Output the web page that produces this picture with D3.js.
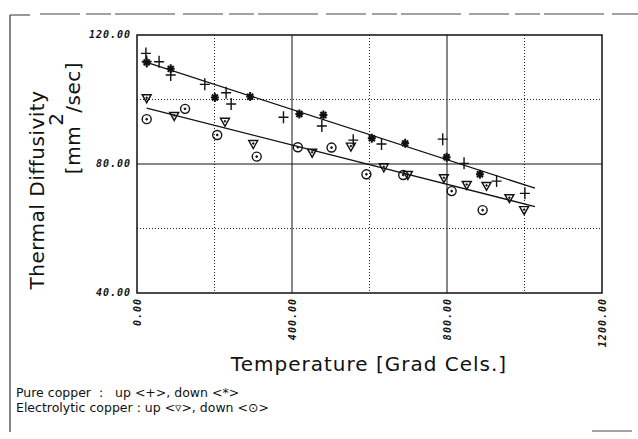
<!DOCTYPE html>
<html>
<head>
<meta charset="utf-8">
<script src="https://cdn.jsdelivr.net/npm/d3@7"></script>
<style>
body { margin: 0; background: #fff; }
svg text { fill: #111; }
</style>
</head>
<body>
<div id="chart"></div>
<script>
// pure copper, heating (+) and cooling (*)
var pureUp = [[23,114.3],[25,111.8],[57,111.7],[87,107.6],[175,104.7],[230,102.1],[243,98.6],[378,94.5],[477,91.8],[558,87.4],[631,86.2],[789,87.7],[844,80.2],[928,74.7],[1001,70.9]];
var pureDown = [[25,111.5],[87,109.5],[201,100.6],[292,100.9],[419,95.5],[481,95.2],[606,88],[692,86.4],[799,82.1],[885,76.8]];
// electrolytic copper, heating (triangle) and cooling (circle)
var elecUp = [[25,100.4],[96,94.9],[227,93.1],[300,86.2],[452,83.5],[552,85.4],[637,79],[699,76.6],[792,75.6],[851,73.5],[902,73.2],[961,69.4],[999,65.7]];
var elecDown = [[25,93.9],[124,97.1],[207,89],[309,82.3],[415,85.2],[502,85.1],[592,76.8],[687,76.6],[812,71.6],[892,65.7]];
// fitted lines
var pureFit = [[25,111.5],[1027,72.5]];
var elecFit = [[25,97.3],[1027,66.8]];

var xTicks = [0, 400, 800, 1200];
var yTicks = [40, 80, 120];
var xDotted = [200, 600, 1000];
var yDotted = [60, 100];
var legendLines = ["Pure copper  :   up <+>, down <*>", "Electrolytic copper : up <\u25BF>, down <\u2299>"];

var width = 638, height = 439;
var svg = d3.select("#chart").append("svg").attr("width", width).attr("height", height);

var x = d3.scaleLinear().domain([0, 1200]).range([137, 602]);
var y = d3.scaleLinear().domain([40, 120]).range([293, 35]);

// page frame bits (scan look)
svg.append("line").attr("x1", 10).attr("x2", 10).attr("y1", 15).attr("y2", 432).style("stroke", "#333").style("stroke-width", 1.2);
svg.append("line").attr("x1", 10).attr("x2", 30).attr("y1", 15).attr("y2", 15).style("stroke", "#333");
svg.append("line").attr("x1", 40).attr("x2", 638).attr("y1", 14).attr("y2", 14)
	.style("stroke", "#444").style("stroke-dasharray", "40,6,25,4,60,8").style("stroke-width", 1.2);
svg.append("line").attr("x1", 592).attr("x2", 632).attr("y1", 431).attr("y2", 431).style("stroke", "#444");

// dotted grid
xDotted.forEach(function(t){
	svg.append("line").attr("x1", x(t)).attr("x2", x(t)).attr("y1", y(120)).attr("y2", y(40))
		.style("stroke", "#222").style("stroke-dasharray", "1,2");
});
yDotted.forEach(function(v){
	svg.append("line").attr("x1", x(0)).attr("x2", x(1200)).attr("y1", y(v)).attr("y2", y(v))
		.style("stroke", "#222").style("stroke-dasharray", "1,2");
});
// solid grid
[400, 800].forEach(function(t){
	svg.append("line").attr("x1", x(t)).attr("x2", x(t)).attr("y1", y(120)).attr("y2", y(40)).style("stroke", "#111");
});
svg.append("line").attr("x1", x(0)).attr("x2", x(1200)).attr("y1", y(80)).attr("y2", y(80)).style("stroke", "#111");

// plot frame
svg.append("rect").attr("x", x(0)).attr("y", y(120)).attr("width", x(1200) - x(0)).attr("height", y(40) - y(120))
	.style("fill", "none").style("stroke", "#111").style("stroke-width", 1.5);

// tick labels
var tickFont = "'DejaVu Sans Mono', monospace";
yTicks.forEach(function(v){
	svg.append("text").attr("x", x(0) - 6).attr("y", y(v) + 3)
		.attr("text-anchor", "end").attr("font-family", tickFont).attr("font-size", "10px")
		.attr("font-weight", "bold").attr("font-style", "italic").attr("letter-spacing", "1")
		.text(v.toFixed(2));
});
xTicks.forEach(function(t){
	svg.append("text").attr("transform", "translate(" + (x(t) + 3.5) + "," + (y(40) + 5) + ") rotate(-90)")
		.attr("text-anchor", "end").attr("font-family", tickFont).attr("font-size", "10px")
		.attr("font-weight", "bold").attr("font-style", "italic").attr("letter-spacing", "1")
		.text(t.toFixed(2));
});

// axis titles
var titleFont = "'DejaVu Sans', sans-serif";
svg.append("text").attr("transform", "translate(44,190) rotate(-90)")
	.attr("text-anchor", "middle").attr("font-family", titleFont).attr("font-size", "20px")
	.attr("letter-spacing", "0.5")
	.text("Thermal Diffusivity");
var unit = svg.append("text").attr("transform", "translate(80,118) rotate(-90)")
	.attr("text-anchor", "middle").attr("font-family", titleFont).attr("font-size", "20px")
	.attr("letter-spacing", "0.5");
unit.append("tspan").text("[mm");
unit.append("tspan").attr("dy", -17).text("2");
unit.append("tspan").attr("dy", 17).text("/sec]");

svg.append("text").attr("x", 369).attr("y", 371)
	.attr("text-anchor", "middle").attr("font-family", titleFont).attr("font-size", "20px")
	.attr("letter-spacing", "1")
	.text("Temperature [Grad Cels.]");

// legend text
legendLines.forEach(function(s, i){
	svg.append("text").attr("x", 16).attr("y", 397 + i * 15)
		.attr("font-family", titleFont).attr("font-size", "12.5px")
		.attr("xml:space", "preserve").style("white-space", "pre")
		.text(s);
});

// fit lines
[pureFit, elecFit].forEach(function(f){
	svg.append("line").attr("x1", x(f[0][0])).attr("y1", y(f[0][1]))
		.attr("x2", x(f[1][0])).attr("y2", y(f[1][1]))
		.style("stroke", "#111").style("stroke-width", 1.3);
});

// markers
var g = svg.append("g").style("stroke", "#111").style("fill", "none");
pureUp.forEach(function(d){
	g.append("path").attr("transform", "translate(" + x(d[0]) + "," + y(d[1]) + ")")
		.attr("d", "M-5,0H5M0,-6V6").style("stroke-width", 1.4);
});
pureDown.forEach(function(d){
	g.append("path").attr("transform", "translate(" + x(d[0]) + "," + y(d[1]) + ")")
		.attr("d", "M-4,0H4M0,-4.5V4.5M-3,-3L3,3M-3,3L3,-3").style("stroke-width", 2);
});
elecUp.forEach(function(d){
	var t = g.append("g").attr("transform", "translate(" + x(d[0]) + "," + y(d[1]) + ")");
	t.append("path").attr("d", "M-4.5,-3.5H4.5L0,4.5Z").style("stroke-width", 1.4);
	t.append("circle").attr("cx", 0).attr("cy", -0.5).attr("r", 0.8).style("fill", "#111");
});
elecDown.forEach(function(d){
	var t = g.append("g").attr("transform", "translate(" + x(d[0]) + "," + y(d[1]) + ")");
	t.append("circle").attr("r", 4.5).style("stroke-width", 1.4);
	t.append("circle").attr("r", 0.9).style("fill", "#111");
});
</script>
</body>
</html>
